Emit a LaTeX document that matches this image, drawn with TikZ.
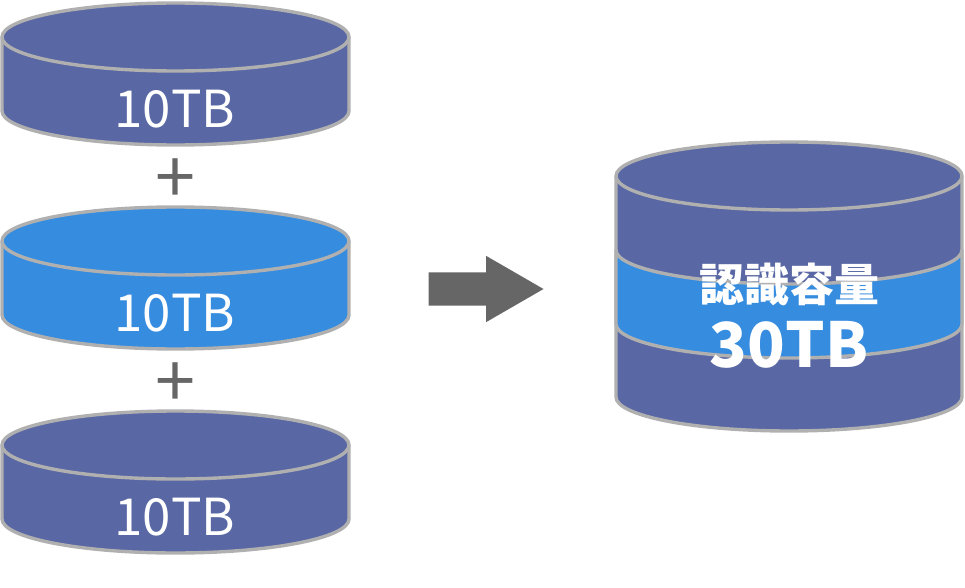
\documentclass[tikz,border=0pt]{standalone}
\usepackage{xcolor}
\usepackage{fontspec}
\usepackage{tikz}
\usetikzlibrary{shapes.arrows}
\setmainfont{Noto Sans CJK JP}
\definecolor{drumblue}{HTML}{5968A4}
\definecolor{skyblue}{HTML}{368CDF}
\definecolor{rimgray}{HTML}{B0B0B0}
\definecolor{darkgray}{HTML}{666666}

\begin{document}
\begin{tikzpicture}[
    x=1pt, y=-1pt,
    rim/.style={draw=rimgray, line width=3.4pt, line join=round},
    sizelabel/.style={text=white, inner sep=0pt, font=\fontsize{51}{51}\selectfont},
    plussign/.style={text=darkgray, inner sep=0pt, font=\fontsize{72}{72}\selectfont},
    biglabel/.style={text=white, inner sep=0pt, font=\bfseries\fontsize{#1}{#1}\selectfont},
    flow/.style={single arrow, fill=darkgray, inner xsep=0pt, inner ysep=16.5pt, outer sep=0pt, minimum width=66pt, minimum height=115pt, single arrow head extend=16.5pt, single arrow tip angle=60, anchor=tip}
]
\useasboundingbox (0,0) rectangle (965,588);

% small disks
\foreach \n/\cy/\col in {1/37/drumblue, 2/241/skyblue, 3/445/drumblue} {
  \draw[rim, fill=\col] (2,\cy) -- (2,{\cy+74}) arc[start angle=180, end angle=0, x radius=173.5, y radius=34]
      -- (349,\cy) arc[start angle=0, end angle=-180, x radius=173.5, y radius=34] -- cycle;
  \draw[rim] (2,\cy) arc[start angle=180, end angle=0, x radius=173.5, y radius=34];
  \node[sizelabel] (size\n) at (175,{\cy+72.5}) {10TB};
}
\node[plussign] (plus1) at (175,181) {+};
\node[plussign] (plus2) at (175,385) {+};

\node[flow] (go) at (543.5,289) {};

% large disk
\draw[rim, fill=drumblue] (616,176) -- (616,397) arc[start angle=180, end angle=0, x radius=173, y radius=34]
    -- (962,176) arc[start angle=0, end angle=-180, x radius=173, y radius=34] -- cycle;
\draw[rim] (616,176) arc[start angle=180, end angle=0, x radius=173, y radius=34];
\draw[rim, fill=skyblue] (616,250) arc[start angle=180, end angle=0, x radius=173, y radius=34]
    -- (962,324) arc[start angle=0, end angle=180, x radius=173, y radius=34] -- cycle;

\node[biglabel=45] (label) at (789,284.5) {認識容量};
\node[biglabel=62] (volume) at (789,345) {30TB};
\end{tikzpicture}
\end{document}
